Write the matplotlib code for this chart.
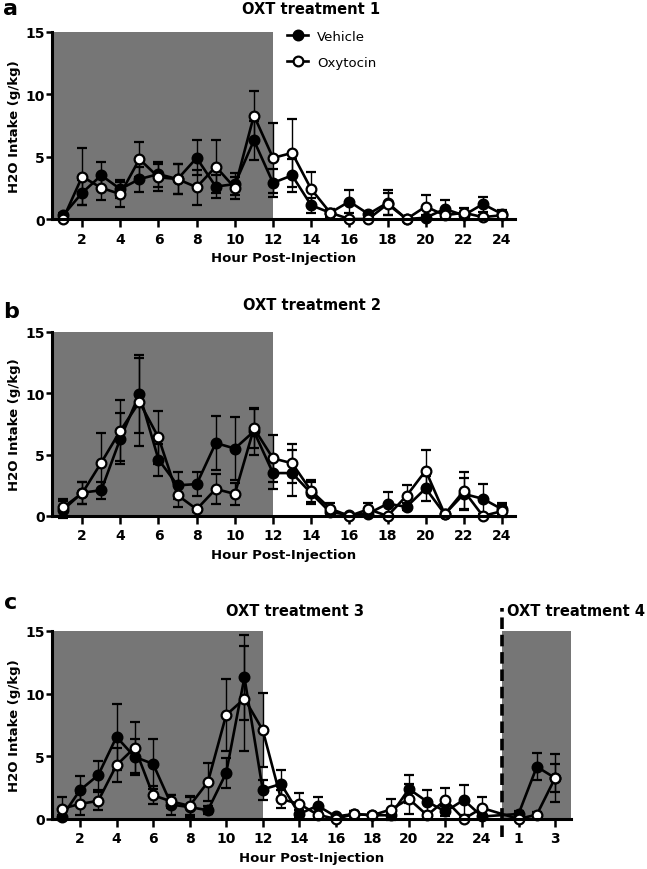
import matplotlib
matplotlib.use("Agg")
import matplotlib.pyplot as plt
from matplotlib.lines import Line2D
import numpy as np

plt.rcParams['font.family'] = ['DejaVu Sans']

# ---------------- data ----------------
hours_ab = list(range(1, 25))
hours_c = list(range(1, 25)) + [26, 27, 28]

veh_a = [0.3, 2.1, 3.5, 2.4, 3.2, 3.6, 3.2, 4.9, 2.6, 2.8, 6.3, 2.9, 3.5, 1.1, 0.5, 1.4, 0.4, 1.3, 0.0, 0.1, 0.8, 0.3, 1.2, 0.4]
err_veh_a = [0.2, 1.0, 1.1, 0.7, 1.0, 1.0, 1.2, 1.4, 0.9, 0.9, 1.6, 1.1, 1.3, 0.6, 0.3, 0.9, 0.2, 1.0, 0.1, 0.2, 0.7, 0.3, 0.6, 0.3]
oxy_a = [0.0, 3.4, 2.5, 2.0, 4.8, 3.35, 3.2, 2.55, 4.2, 2.5, 8.3, 4.9, 5.3, 2.4, 0.5, 0.0, 0.0, 1.2, 0.0, 1.0, 0.3, 0.5, 0.15, 0.3]
err_oxy_a = [0.1, 2.3, 1.0, 1.0, 1.4, 1.1, 1.2, 1.4, 2.1, 0.9, 2.0, 2.8, 2.7, 1.35, 0.3, 0.1, 0.1, 0.9, 0.1, 0.9, 0.3, 0.4, 0.2, 0.3]

veh_b = [0.5, 1.9, 2.1, 6.3, 9.95, 4.6, 2.5, 2.6, 5.95, 5.5, 6.9, 3.5, 3.5, 1.85, 0.3, 0.1, 0.2, 1.0, 0.75, 2.25, 0.15, 1.8, 1.4, 0.55]
err_veh_b = [0.7, 0.9, 0.7, 2.1, 3.2, 1.3, 1.1, 1.0, 2.2, 2.6, 1.9, 1.3, 1.9, 0.9, 0.3, 0.1, 0.2, 0.95, 0.3, 1.0, 0.1, 1.3, 1.2, 0.5]
oxy_b = [0.7, 1.85, 4.35, 6.95, 9.3, 6.4, 1.7, 0.55, 2.2, 1.8, 7.15, 4.7, 4.3, 2.05, 0.6, 0.0, 0.55, 0.0, 1.65, 3.7, 0.15, 2.05, 0.0, 0.4]
err_oxy_b = [0.7, 0.9, 2.4, 2.5, 3.6, 2.2, 1.0, 0.2, 1.2, 0.9, 1.6, 1.9, 1.6, 0.9, 0.5, 0.1, 0.5, 0.1, 0.85, 1.65, 0.1, 1.5, 0.1, 0.5]

veh_c = [0.15, 2.3, 3.5, 6.55, 4.95, 4.4, 1.15, 0.95, 0.7, 3.67, 11.3, 2.35, 2.8, 0.4, 1.06, 0.2, 0.4, 0.3, 0.3, 2.4, 1.38, 0.6, 1.52, 0.2, 0.4, 4.17, 3.27]
err_veh_c = [0.2, 1.1, 1.15, 2.65, 1.4, 2.0, 0.8, 0.8, 0.3, 1.2, 3.4, 0.8, 1.1, 0.3, 0.7, 0.1, 0.2, 0.2, 0.2, 1.15, 0.95, 0.4, 1.2, 0.2, 0.2, 1.07, 1.95]
oxy_c = [0.82, 1.2, 1.45, 4.3, 5.7, 1.9, 1.4, 1.05, 2.95, 8.3, 9.6, 7.1, 1.6, 1.2, 0.35, 0.0, 0.4, 0.3, 0.75, 1.6, 0.3, 1.52, 0.0, 0.88, 0.0, 0.35, 3.27]
err_oxy_c = [0.9, 0.9, 0.7, 1.35, 2.0, 0.7, 0.5, 0.75, 1.5, 2.9, 4.2, 2.95, 0.7, 0.87, 0.2, 0.1, 0.2, 0.2, 0.85, 1.2, 0.2, 0.95, 0.1, 0.9, 0.1, 0.2, 1.1]

xticks_ab = list(range(2, 25, 2))
xticks_c = list(range(2, 25, 2)) + [26, 28]
xticklabels_c = [str(v) for v in range(2, 25, 2)] + ['1', '3']
yticks = [0, 5, 10, 15]

dark_end = 12
t4_divider = 25.1
t4_dark_end = 28.85

# ---------------- layout ----------------
W, H = 647, 870
fig = plt.figure(figsize=(W / 100, H / 100), dpi=100)

def rect(l, r, t, b):
    return [l / W, 1 - b / H, (r - l) / W, (b - t) / H]

SHADE = '#767676'

def style_axes(ax, xlim, xticks, xticklabels=None):
    ax.set_xlim(*xlim)
    ax.set_ylim(0, 15)
    for s in ['top', 'right']:
        ax.spines[s].set_visible(False)
    for s in ['left', 'bottom']:
        ax.spines[s].set_linewidth(2.2)
        ax.spines[s].set_zorder(5)
    ax.set_yticks(yticks)
    ax.set_xticks(xticks)
    if xticklabels is not None:
        ax.set_xticklabels(xticklabels)
    ax.tick_params(axis='x', length=6, width=1.8, pad=3, labelsize=10)
    ax.tick_params(axis='y', length=4, width=1.8, pad=1, labelsize=10)
    for lab in ax.get_xticklabels() + ax.get_yticklabels():
        lab.set_fontweight('bold')
    ax.set_ylabel('H2O Intake (g/kg)', fontsize=9.5, fontweight='bold', labelpad=3)
    ax.set_xlabel('Hour Post-Injection', fontsize=9.5, fontweight='bold', labelpad=4)
    ax.patch.set_visible(False)

def draw_series(ax, x, v, ve, o, oe):
    for y, e, mfc, z in [(v, ve, 'black', 3), (o, oe, 'white', 4)]:
        cont = ax.errorbar(x, y, yerr=e, fmt='-o', color='black', mfc=mfc, mec='black',
                           ms=7, mew=1.6, lw=1.9, elinewidth=1.0, capsize=3.5,
                           capthick=1.0, zorder=z)
        for art in cont.get_children():
            art.set_clip_on(False)

# panel a
ax_a = fig.add_axes(rect(52, 515, 33, 220))
style_axes(ax_a, (0.42, 24.68), xticks_ab)
ax_a.axvspan(ax_a.get_xlim()[0], dark_end, color=SHADE, lw=0, zorder=0)
draw_series(ax_a, hours_ab, veh_a, err_veh_a, oxy_a, err_oxy_a)

# panel b
ax_b = fig.add_axes(rect(52, 515, 333, 517))
style_axes(ax_b, (0.42, 24.68), xticks_ab)
ax_b.axvspan(ax_b.get_xlim()[0], dark_end, color=SHADE, lw=0, zorder=0)
draw_series(ax_b, hours_ab, veh_b, err_veh_b, oxy_b, err_oxy_b)

# panel c
ax_c = fig.add_axes(rect(52, 571, 632, 820))
style_axes(ax_c, (0.47, 28.87), xticks_c, xticklabels_c)
ax_c.axvspan(ax_c.get_xlim()[0], dark_end, color=SHADE, lw=0, zorder=0)
ax_c.axvspan(t4_divider, t4_dark_end, color=SHADE, lw=0, zorder=0)
ax_c.plot([t4_divider, t4_divider], [-1.4, 16.8], color='black', lw=2.6,
          ls=(0, (3.2, 1.6)), clip_on=False, zorder=6)
draw_series(ax_c, hours_c, veh_c, err_veh_c, oxy_c, err_oxy_c)

# titles / panel letters
def ftext(xp, yp, s, **kw):
    fig.text(xp / W, 1 - yp / H, s, ha='center', va='center', **kw)

ftext(311, 10, 'OXT treatment 1', fontsize=10.5, fontweight='bold')
ftext(312, 305, 'OXT treatment 2', fontsize=10.5, fontweight='bold')
ftext(295, 612, 'OXT treatment 3', fontsize=10.5, fontweight='bold')
ftext(576, 612, 'OXT treatment 4', fontsize=10.5, fontweight='bold')
ftext(11, 9, 'a', fontsize=16, fontweight='bold')
ftext(11, 312, 'b', fontsize=16, fontweight='bold')
ftext(11, 603, 'c', fontsize=16, fontweight='bold')

# legend
handles = [Line2D([], [], color='black', marker='o', mfc='black', mec='black', ms=7, mew=1.6, lw=1.9),
           Line2D([], [], color='black', marker='o', mfc='white', mec='black', ms=7, mew=1.6, lw=1.9)]
fig.legend(handles, ['Vehicle', 'Oxytocin'], loc='upper left',
           bbox_to_anchor=(287 / W, 1 - 31 / H), frameon=False, fontsize=9.5,
           handlelength=1.6, handletextpad=0.7, labelspacing=0.95, borderaxespad=0,
           borderpad=0)

fig.savefig('out.png', dpi=100)
